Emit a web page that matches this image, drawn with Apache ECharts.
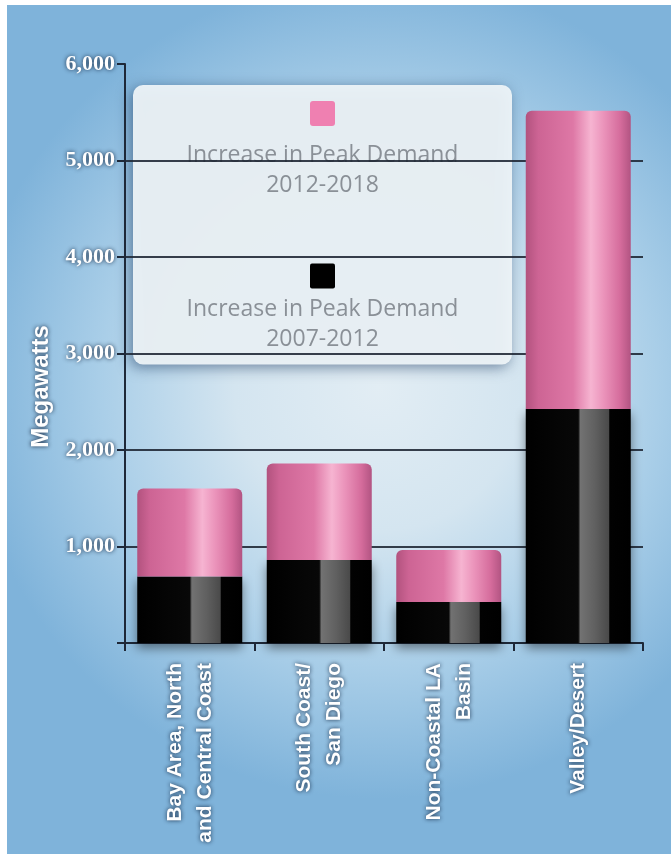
<!DOCTYPE html>
<html>
<head>
<meta charset="utf-8">
<script src="https://cdn.jsdelivr.net/npm/echarts@6/dist/echarts.min.js"></script>
<style>
  html, body { margin: 0; padding: 0; background: #ffffff; }
  #chart { position: absolute; left: 7px; top: 5px; width: 664px; height: 849px; }
</style>
</head>
<body>
<div id="chart"></div>
<script>
// Regions on the horizontal axis
const regions = [
  'Bay Area, North\nand Central Coast',
  'South Coast/\nSan Diego',
  'Non-Coastal LA\nBasin',
  'Valley/Desert'
];

// Growth in peak demand (MW) for each period
const growth2007to2012 = [690, 860, 425, 2425];
const growth2012to2018 = [910, 1000, 540, 3090];

const seriesLabel = 'Increase in Peak Demand';
const periodEarly = '2007-2012';
const periodLate = '2012-2018';

const yTicks = { min: 0, max: 6000, step: 1000 };

const pinkCylinder = {
  type: 'linear', x: 0, y: 0, x2: 1, y2: 0,
  colorStops: [
    { offset: 0.00, color: '#b2527e' },
    { offset: 0.12, color: '#cd6494' },
    { offset: 0.45, color: '#de78a6' },
    { offset: 0.62, color: '#f6b4d1' },
    { offset: 0.74, color: '#eb94bb' },
    { offset: 0.90, color: '#d56c9c' },
    { offset: 1.00, color: '#b25482' }
  ]
};

const blackCylinder = {
  type: 'linear', x: 0, y: 0, x2: 1, y2: 0,
  colorStops: [
    { offset: 0.00, color: '#000000' },
    { offset: 0.50, color: '#080808' },
    { offset: 0.52, color: '#727272' },
    { offset: 0.66, color: '#606060' },
    { offset: 0.79, color: '#4a4a4a' },
    { offset: 0.80, color: '#020202' },
    { offset: 1.00, color: '#000000' }
  ]
};

const whiteHalo = {
  color: '#ffffff',
  textShadowColor: 'rgba(18,36,62,0.95)',
  textShadowBlur: 4
};

const chart = echarts.init(document.getElementById('chart'), null, { renderer: 'canvas' });

chart.setOption({
  animation: false,
  backgroundColor: {
    type: 'radial', x: 0.56, y: 0.45, r: 0.62,
    colorStops: [
      { offset: 0.00, color: '#e2edf4' },
      { offset: 0.35, color: '#d4e5f0' },
      { offset: 0.68, color: '#a9cee8' },
      { offset: 1.00, color: '#7fb3da' }
    ]
  },
  grid: { left: 118, right: 28, top: 59, bottom: 211 },
  legend: {
    z: 0.5,
    left: 126,
    top: 80,
    orient: 'vertical',
    selectedMode: false,
    icon: 'rect',
    itemWidth: 0,
    itemHeight: 0,
    itemGap: 67,
    padding: [16, 20, 14, 15],
    backgroundColor: 'rgba(238,244,248,0.94)',
    borderRadius: 10,
    shadowBlur: 14,
    shadowColor: 'rgba(30,60,100,0.6)',
    shadowOffsetX: -3,
    shadowOffsetY: 3,
    data: [seriesLabel + ' ' + periodLate, seriesLabel + ' ' + periodEarly],
    formatter: function (name) {
      const late = name.endsWith(periodLate);
      const sq = late ? 'pk' : 'bk';
      return '{' + sq + '|}\n{t|' + seriesLabel + '}\n{t|' + (late ? periodLate : periodEarly) + '}';
    },
    textStyle: {
      rich: {
        pk: { width: 25, height: 25, lineHeight: 53, backgroundColor: '#ef80b1', borderRadius: 3, align: 'center' },
        bk: { width: 25, height: 25, lineHeight: 36, backgroundColor: '#000000', borderRadius: 2, align: 'center' },
        t: { width: 339, align: 'center', fontSize: 23, lineHeight: 30, color: '#8a9097', fontFamily: 'Open Sans' }
      }
    }
  },
  xAxis: {
    type: 'category',
    z: 1,
    data: regions,
    axisLine: { lineStyle: { color: '#1e2838', width: 2 } },
    axisTick: { show: true, length: 8, lineStyle: { color: '#1e2838', width: 2 } },
    axisLabel: Object.assign({
      interval: 0,
      rotate: 90,
      margin: 20,
      fontFamily: 'Liberation Sans',
      fontWeight: 'bold',
      fontSize: 21,
      lineHeight: 30
    }, whiteHalo)
  },
  yAxis: {
    type: 'value',
    z: 1,
    min: yTicks.min,
    max: yTicks.max,
    interval: yTicks.step,
    name: 'Megawatts',
    nameLocation: 'middle',
    nameRotate: 90,
    nameGap: 72,
    nameTextStyle: Object.assign({
      fontFamily: 'Liberation Sans',
      fontWeight: 'bold',
      fontSize: 24,
      padding: [0, 66, 0, 0]
    }, whiteHalo),
    axisLine: { show: true, lineStyle: { color: '#1e2838', width: 2 } },
    axisTick: { show: true, length: 8, lineStyle: { color: '#1e2838', width: 2 } },
    axisLabel: Object.assign({
      margin: 10,
      fontFamily: 'Liberation Serif',
      fontWeight: 'bold',
      fontSize: 22,
      formatter: function (v) { return v === 0 ? '' : echarts.format.addCommas(v); }
    }, whiteHalo),
    splitLine: {
      show: true,
      showMinLine: false,
      showMaxLine: false,
      lineStyle: { color: 'rgba(28,36,50,0.88)', width: 2 }
    }
  },
  series: [
    {
      name: seriesLabel + ' ' + periodEarly,
      type: 'bar',
      stack: 'demand',
      barWidth: 105,
      data: growth2007to2012,
      itemStyle: {
        color: blackCylinder,
        shadowBlur: 10,
        shadowColor: 'rgba(0,0,0,0.45)',
        shadowOffsetY: 5
      }
    },
    {
      name: seriesLabel + ' ' + periodLate,
      type: 'bar',
      stack: 'demand',
      barWidth: 105,
      data: growth2012to2018,
      itemStyle: {
        color: pinkCylinder,
        borderRadius: [6, 6, 0, 0]
      }
    }
  ]
});
</script>
</body>
</html>
